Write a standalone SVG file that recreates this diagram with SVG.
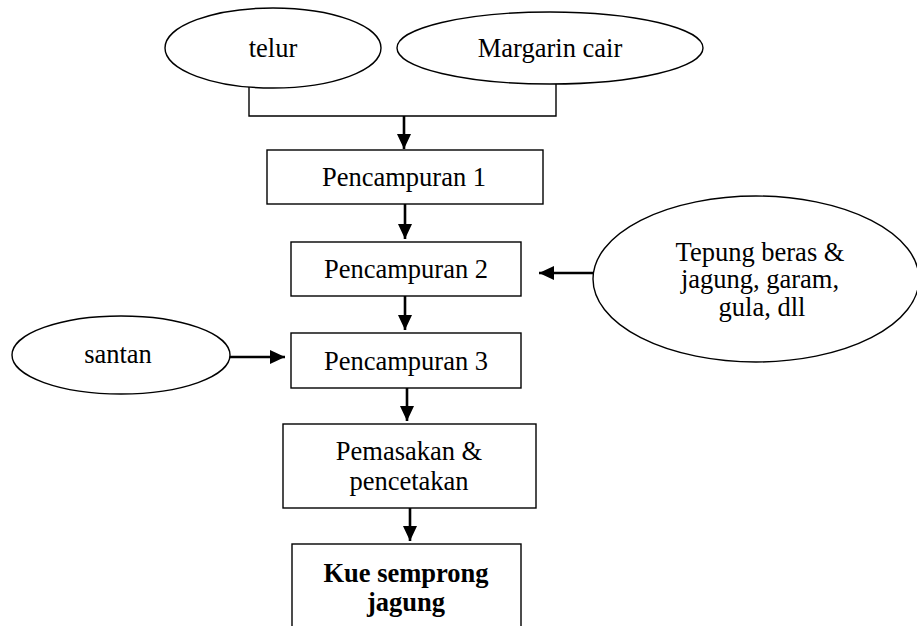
<svg xmlns="http://www.w3.org/2000/svg" width="917" height="626" viewBox="0 0 917 626">
<style>
.shape{fill:#fff;stroke:#000;stroke-width:1.4}
.t{font-family:"Liberation Serif","Times New Roman",serif;font-size:26.5px;fill:#000;text-anchor:middle}
.b{font-weight:bold}
.bracket{fill:none;stroke:#000;stroke-width:1.4}
.arrow{fill:none;stroke:#000;stroke-width:2.6;marker-end:url(#ah)}
</style>
<defs>
<marker id="ah" markerUnits="userSpaceOnUse" markerWidth="16" markerHeight="15" refX="15" refY="7" orient="auto">
<path d="M0,0 L15,7 L0,14 z" fill="#000"/>
</marker>
</defs>
<rect width="917" height="626" fill="#fff"/>
<g id="connectors">
<path class="bracket" d="M249,87 V116 H556 V84"/>
<line class="arrow" x1="404" y1="116" x2="404" y2="149"/>
<line class="arrow" x1="405" y1="204" x2="405" y2="239"/>
<line class="arrow" x1="405" y1="296" x2="405" y2="330"/>
<line class="arrow" x1="593" y1="273" x2="539" y2="273"/>
<line class="arrow" x1="230" y1="357" x2="285" y2="357"/>
<line class="arrow" x1="407" y1="388" x2="407" y2="421"/>
<line class="arrow" x1="410" y1="508" x2="410" y2="541"/>
</g>
<g id="telur">
<ellipse class="shape" cx="273" cy="48" rx="108" ry="40"/>
<text class="t" x="273" y="57">telur</text>
</g>
<g id="margarin">
<ellipse class="shape" cx="550" cy="48" rx="153" ry="36"/>
<text class="t" x="550" y="57">Margarin cair</text>
</g>
<g id="pencampuran1">
<rect class="shape" x="267" y="150" width="276" height="54"/>
<text class="t" x="404" y="186">Pencampuran 1</text>
</g>
<g id="pencampuran2">
<rect class="shape" x="291" y="242" width="230" height="54"/>
<text class="t" x="406" y="278">Pencampuran 2</text>
</g>
<g id="tepung">
<ellipse class="shape" cx="756" cy="279" rx="163" ry="83"/>
<text class="t" x="760" y="261">Tepung beras &amp;</text>
<text class="t" x="760" y="288">jagung, garam,</text>
<text class="t" x="762" y="316">gula, dll</text>
</g>
<g id="santan">
<ellipse class="shape" cx="121" cy="355" rx="109" ry="39"/>
<text class="t" x="118" y="363">santan</text>
</g>
<g id="pencampuran3">
<rect class="shape" x="291" y="333" width="230" height="55"/>
<text class="t" x="406" y="370">Pencampuran 3</text>
</g>
<g id="pemasakan">
<rect class="shape" x="283" y="424" width="253" height="84"/>
<text class="t" x="409" y="460">Pemasakan &amp;</text>
<text class="t" x="409" y="490">pencetakan</text>
</g>
<g id="kue">
<rect class="shape" x="292" y="544" width="229" height="100"/>
<text class="t b" x="406" y="582">Kue semprong</text>
<text class="t b" x="406" y="611">jagung</text>
</g>
</svg>
